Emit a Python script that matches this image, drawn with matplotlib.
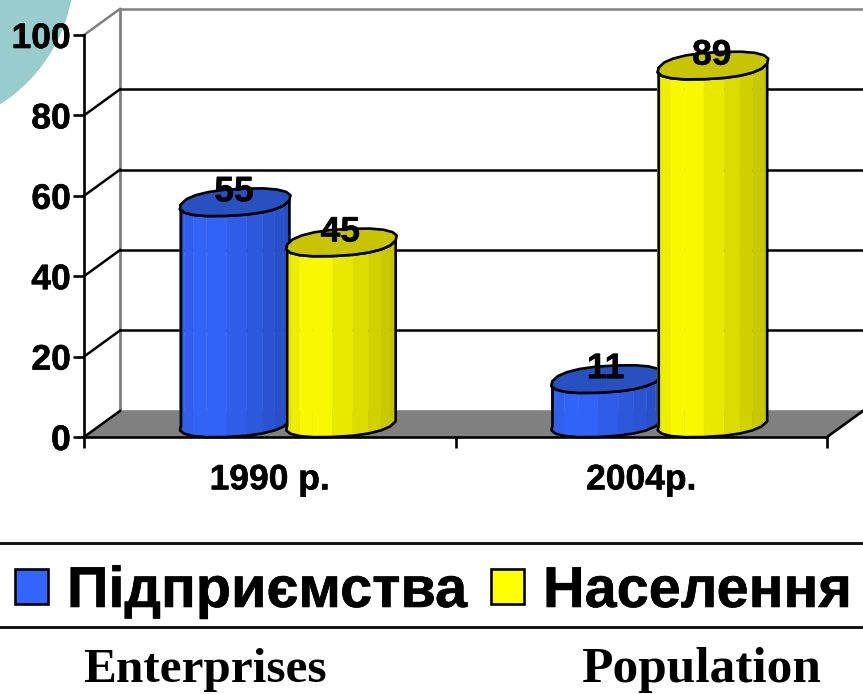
"""3D style cylinder bars: enterprises and population shares, 1990 and 2004."""

import matplotlib
matplotlib.use('Agg')
import matplotlib.patheffects as pe
import matplotlib.pyplot as plt
import numpy as np
from matplotlib.colors import to_rgb
from matplotlib.patches import Circle, Polygon, Rectangle

categories = ['1990 р.', '2004р.']
enterprises = [55, 11]
population = [45, 89]
series_names = ['Підприємства', 'Населення']
english_names = ['Enterprises', 'Population']
y_ticks = [0, 20, 40, 60, 80, 100]

W, H = 863, 694
DEPTH_X = 0.097   # oblique depth of the box, x data units
DEPTH_Y = 6.5     # same, y data units
BAR_A = 0.146
BAR_B = 0.024
BAR_C = 3.4
BAR_D = 0.5
FACETS = 20
HEAVY = [pe.withStroke(linewidth=0.4, foreground='black')]


def shade(base, frac):
    """Darken towards the right side of the cylinder, with the highlight left of centre."""
    base = np.array(to_rgb(base))
    if frac < 0.25:
        k = 0.9 + 0.1 * frac / 0.25
    else:
        k = 1.0 - 0.24 * (frac - 0.25) / 0.75
    return tuple(base * k)


def ring(cx, cy, n=FACETS):
    # slightly boxy ring, the source cylinders are not true ellipses
    t = np.linspace(0, 2 * np.pi, n + 1)
    co = np.sign(np.cos(t)) * np.abs(np.cos(t)) ** 0.85
    si = np.sign(np.sin(t)) * np.abs(np.sin(t)) ** 0.85
    x = cx + BAR_A * co + BAR_B * si
    y = cy + BAR_C * si + BAR_D * co
    return x, y


def draw_cylinder(ax, cx, value, side, top, z):
    """Draw one cylinder whose front edge stands at 0 and ends at value."""
    x0, y0 = ring(cx, BAR_C)
    x1, y1 = ring(cx, value + BAR_C)
    # front half of the ring, left to right
    order = [i for i in range(FACETS // 2, FACETS + 1)]
    xmin, xmax = x0[order].min(), x0[order].max()
    for i, j in zip(order[:-1], order[1:]):
        frac = ((x0[i] + x0[j]) / 2 - xmin) / (xmax - xmin)
        pts = [(x0[i], y0[i]), (x0[j], y0[j]), (x1[j], y1[j]), (x1[i], y1[i])]
        c = shade(side, frac)
        ax.add_patch(Polygon(pts, closed=True, fc=c, ec=c, lw=0.3, zorder=z, clip_on=False))
    outline = [(x0[i], y0[i]) for i in order] + [(x1[i], y1[i]) for i in order[::-1]]
    ax.add_patch(Polygon(outline, closed=True, fc='none', ec='black', lw=1.9, zorder=z + 0.1,
                         clip_on=False, joinstyle='round'))
    ax.add_patch(Polygon(np.column_stack([x1, y1]), closed=True, fc=top, ec='black', lw=1.9,
                         zorder=z + 0.2, clip_on=False, joinstyle='round'))


def main():
    fig = plt.figure(figsize=(W / 100, H / 100), dpi=100)

    # Page furniture, in pixels
    bg = fig.add_axes([0, 0, 1, 1], zorder=-1)
    bg.set_xlim(0, W)
    bg.set_ylim(H, 0)
    bg.axis('off')
    bg.add_patch(Circle((-85, -30), 159, fc='#99CCCC', ec='none'))
    for y in [542.5, 626.5]:
        bg.plot([0, W], [y, y], color='#111111', lw=2.1)
    bg.add_patch(Rectangle((15, 569), 33, 35, fc='#3366FF', ec='black', lw=1.9))
    bg.add_patch(Rectangle((491, 569), 33, 35, fc='#FFFF00', ec='black', lw=1.9))
    sans = dict(family='Liberation Sans', weight='bold', color='black', va='baseline')
    bg.text(67, 607, series_names[0], fontsize=41.5, path_effects=HEAVY, **sans)
    bg.text(543, 607, series_names[1], fontsize=41.5, path_effects=HEAVY, **sans)
    serif = dict(family='Liberation Serif', weight='bold', color='black', va='baseline', ha='center')
    bg.text(204.5, 682, english_names[0], fontsize=35.5, **serif)
    bg.text(701, 682, english_names[1], fontsize=37, **serif)

    # Chart axes: front plane of the box
    ax = fig.add_axes([84 / W, 1 - 437 / H, (827 - 84) / W, (437 - 35) / H])
    ax.patch.set_alpha(0)
    ax.set_xlim(0, 2)
    ax.set_ylim(0, 100)
    for s in ['top', 'right']:
        ax.spines[s].set_visible(False)
    for s in ['left', 'bottom']:
        ax.spines[s].set_linewidth(1.9)
        ax.spines[s].set_zorder(1.5)

    ax.set_yticks(y_ticks)
    ax.set_xticks([0, 1, 2])
    ax.set_xticklabels([])
    ax.set_xticks([0.5, 1.5], minor=True)
    ax.set_xticklabels(categories, minor=True)
    ax.tick_params(axis='y', length=8, width=1.9, pad=1.5, labelsize=25.5)
    ax.tick_params(axis='x', which='major', length=8, width=1.9)
    ax.tick_params(axis='x', which='minor', length=0, pad=19, labelsize=25.5)
    for lab in ax.get_yticklabels() + ax.get_xticklabels(minor=True):
        lab.set_family('Liberation Sans')
        lab.set_weight('bold')
        lab.set_path_effects(HEAVY)

    # Floor and walls
    floor = [(0, 0), (2, 0), (2 + DEPTH_X, DEPTH_Y), (DEPTH_X, DEPTH_Y)]
    ax.add_patch(Polygon(floor, closed=True, fc='#808080', ec='none', zorder=1, clip_on=False))
    ax.plot([2, 2 + DEPTH_X], [0, DEPTH_Y], color='black', lw=1.9, zorder=1.2, clip_on=False)
    ax.plot([DEPTH_X, DEPTH_X], [DEPTH_Y, 100 + DEPTH_Y], color='#808080', lw=2.0, zorder=0.9, clip_on=False)
    for v in y_ticks:
        back = '#808080' if v in (0, 100) else 'black'
        side = '#808080' if v == 100 else 'black'
        ax.plot([0, DEPTH_X], [v, v + DEPTH_Y], color=side, lw=1.8, zorder=1.1, clip_on=False)
        ax.plot([DEPTH_X, 2 + DEPTH_X], [v + DEPTH_Y, v + DEPTH_Y], color=back, lw=1.8, zorder=0.95, clip_on=False)

    # Cylinders
    z = 2
    for i in range(len(categories)):
        c = i + 0.5 + 0.05
        for offset, values, side, top in [(-0.143, enterprises, '#3366FF', '#2850C0'),
                                          (0.143, population, '#FFFF00', '#C8C400')]:
            draw_cylinder(ax, c + offset, values[i], side, top, z)
            ax.text(c + offset - 0.003, values[i] + 6.0, str(values[i]), ha='center', va='center', fontsize=25.5,
                    family='Liberation Sans', weight='bold', color='black', zorder=10, path_effects=HEAVY)
            z += 1

    fig.savefig('out.png', dpi=100)


if __name__ == "__main__":
    main()
